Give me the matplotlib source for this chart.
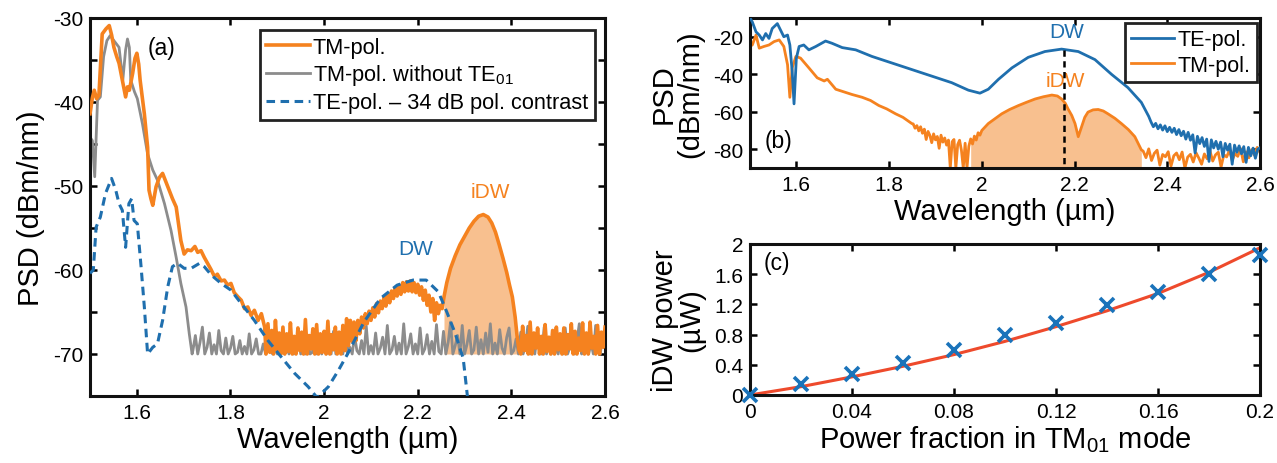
import numpy as np
import matplotlib.pyplot as plt

plt.rcParams['font.family'] = ['Liberation Sans', 'DejaVu Sans']
plt.rcParams['mathtext.default'] = 'regular'
plt.rcParams['axes.unicode_minus'] = False

# ---------------- panel (a) data ----------------
# TM-pol. (orange), smooth part
tm_a_wl = [1.500, 1.505, 1.509, 1.514, 1.519, 1.526, 1.534, 1.541, 1.546, 1.551, 1.557, 1.562,
           1.569, 1.576, 1.580, 1.584, 1.591, 1.596, 1.600, 1.604, 1.607, 1.616, 1.623, 1.626,
           1.630, 1.634, 1.641, 1.648, 1.655, 1.662, 1.669, 1.676, 1.684, 1.694, 1.701, 1.708,
           1.716, 1.724, 1.730, 1.737, 1.744, 1.751, 1.758, 1.766, 1.772, 1.780, 1.787, 1.794,
           1.801, 1.808, 1.816, 1.823, 1.830, 1.837, 1.844, 1.851, 1.859, 1.866, 1.873]
tm_a_psd = [-41.4, -39.5, -38.6, -39.6, -39.2, -31.9, -31.3, -30.9, -32.0, -33.5, -34.6, -35.4,
            -37.4, -39.4, -38.2, -38.6, -36.6, -34.8, -34.2, -35.5, -37.4, -41.4, -45.4, -50.5,
            -51.5, -52.3, -50.1, -49.0, -48.5, -49.5, -50.5, -51.5, -52.5, -56.5, -58.1, -57.6,
            -57.7, -57.2, -57.9, -57.7, -58.5, -59.2, -59.9, -60.8, -60.5, -61.3, -61.2, -61.8,
            -61.6, -62.7, -63.2, -63.6, -64.6, -64.4, -65.4, -64.8, -66.0, -65.2, -66.8]
# noisy floor 1.876 .. 2.060 (step 0.004)
tm_a_floor1 = [-70, -66.4, -69.8, -67.2, -70, -66.0, -69.5, -67.5, -70, -66.8, -70, -67.6,
               -69.7, -66.3, -70, -67.9, -70, -66.9, -69.6, -67.4, -70, -65.9, -70, -67.8,
               -69.4, -67.0, -70, -66.5, -70, -67.6, -69.8, -67.3, -70, -66.1, -70, -67.7,
               -69.5, -66.8, -70, -67.4, -70, -66.6, -69.6, -65.8, -69.0, -66.0, -68.5]
# DW hump 2.064 .. 2.252 (step 0.004)
tm_a_hump = [-66.2, -68.4, -66.0, -67.6, -65.6, -66.9, -65.2, -66.4, -64.9, -66.0, -64.5, -65.6,
             -64.0, -65.1, -63.7, -64.6, -63.2, -64.3, -62.8, -63.9, -62.5, -63.4, -62.1, -63.1,
             -61.8, -62.9, -61.5, -62.6, -61.4, -62.5, -61.3, -62.6, -61.5, -62.7, -61.7, -63.0,
             -62.0, -63.6, -62.4, -64.2, -63.0, -65.0, -63.4, -66.0, -63.9, -65.2, -64.2, -64.6]
# iDW peak
idw_a_wl = [2.256, 2.262, 2.270, 2.280, 2.290, 2.300, 2.310, 2.320, 2.330, 2.340, 2.350, 2.358,
            2.366, 2.374, 2.382, 2.390, 2.396, 2.402, 2.408, 2.412, 2.416]
idw_a_psd = [-63.2, -61.5, -59.8, -58.3, -57.0, -56.0, -55.0, -54.2, -53.6, -53.4, -53.7, -54.4,
             -55.5, -57.0, -58.6, -60.3, -61.8, -63.2, -65.6, -67.8, -69.5]
# noisy floor 2.420 .. 2.600 (step 0.004)
tm_a_floor2 = [-70, -66.7, -69.6, -67.8, -70, -66.2, -70, -67.5, -69.3, -66.9, -70, -67.9,
               -70, -66.5, -69.7, -68.0, -70, -67.2, -70, -66.8, -69.5, -67.6, -70, -66.9,
               -70, -67.7, -69.4, -66.4, -70, -67.3, -70, -68.1, -69.6, -66.3, -70, -67.5,
               -70, -66.2, -69.3, -67.9, -70, -66.6, -70, -67.4, -69.2, -66.8]

# TM-pol. without TE01 (gray)
gr_a_wl = [1.500, 1.505, 1.510, 1.516, 1.522, 1.529, 1.536, 1.543, 1.551, 1.562, 1.570, 1.576,
           1.580, 1.584, 1.587, 1.595, 1.601, 1.612, 1.623, 1.634, 1.644, 1.659, 1.673, 1.684,
           1.694, 1.705, 1.712, 1.718]
gr_a_psd = [-44.2, -44.6, -48.9, -39.8, -39.4, -34.6, -32.7, -32.1, -32.7, -33.5, -37.4, -33.8,
            -32.5, -33.5, -37.4, -38.8, -39.6, -42.6, -46.2, -48.1, -49.3, -52.1, -55.3, -58.5,
            -61.6, -64.4, -67.6, -70.0]
# noisy floor 1.720 .. 2.600 (step 0.005)
gr_a_floor = [-69.5, -67.8, -70, -68.6, -66.8, -70, -69.2, -67.5, -70, -68.9, -70, -67.2, -69.6, -70, -68.1, -70, -69.3, -67.9, -70, -69.8,
              -68.4, -70, -69.1, -70, -67.6, -70, -69.5, -68.2, -70, -70, -68.8, -70, -67.9, -69.4, -70, -68.5, -70, -69.7, -68.0, -70,
              -69.2, -70, -68.3, -70, -69.6, -67.7, -70, -69.0, -70, -68.6, -70, -69.8, -67.4, -70, -69.1, -70, -68.2, -70, -69.5, -70,
              -67.3, -70, -69.4, -68.1, -70, -66.9, -70, -69.2, -70, -67.8, -69.6, -70, -68.4, -70, -66.7, -70, -69.0, -70, -67.5, -70,
              -69.3, -68.0, -70, -66.6, -70, -69.5, -67.9, -70, -68.7, -70, -66.4, -70, -69.1, -67.6, -70, -68.8, -70, -66.9, -70, -69.4,
              -67.7, -70, -68.5, -70, -66.5, -69.7, -70, -67.3, -70, -68.6, -66.2, -70, -69.0, -67.8, -70, -66.6, -70, -68.9, -67.2, -70,
              -69.5, -66.8, -70, -68.3, -70, -67.5, -69.8, -66.4, -70, -68.7, -70, -67.1, -69.3, -70, -68.0, -66.9, -70, -69.6, -68.2, -70,
              -67.4, -70, -69.0, -66.7, -70, -68.5, -70, -67.9, -69.7, -70, -66.8, -70, -68.8, -70, -67.5, -69.4, -70, -68.1, -70, -66.9,
              -70, -69.2, -67.6, -70, -68.4, -66.4, -70, -69.5, -67.9, -70, -68.7, -70, -66.6, -69.8, -70, -67.4, -68.2]

# TE-pol. - 34 dB pol. contrast (blue dashed)
te_a_wl = [1.500, 1.507, 1.513, 1.522, 1.533, 1.546, 1.555, 1.562, 1.569, 1.576, 1.583, 1.589,
           1.594, 1.601, 1.609, 1.616, 1.623, 1.634, 1.644, 1.655, 1.666, 1.676, 1.687, 1.701,
           1.716, 1.734, 1.744, 1.759, 1.780, 1.801, 1.823, 1.851, 1.880, 1.909, 1.937, 1.966,
           1.985, 2.009, 2.030, 2.050, 2.085, 2.120, 2.156, 2.190, 2.218, 2.244, 2.262, 2.279,
           2.297, 2.306]
te_a_psd = [-60.4, -60.0, -54.9, -53.7, -50.9, -49.1, -50.5, -52.1, -52.9, -57.3, -52.1, -51.5,
            -54.1, -54.5, -59.6, -64.4, -70.0, -69.2, -68.8, -66.0, -62.0, -59.6, -59.2, -59.8,
            -59.8, -59.2, -59.6, -60.6, -61.6, -62.4, -64.0, -66.0, -68.4, -70.4, -72.3, -73.9,
            -75.2, -73.9, -72.0, -70.0, -66.2, -63.4, -61.8, -61.2, -61.2, -62.6, -65.0, -67.4,
            -70.5, -75.0]

# ---------------- panel (b) data ----------------
te_b_wl = [1.500, 1.505, 1.513, 1.520, 1.527, 1.534, 1.541, 1.548, 1.559, 1.566, 1.573, 1.581,
           1.586, 1.591, 1.595, 1.600, 1.606, 1.616, 1.627, 1.642, 1.663, 1.677, 1.699, 1.728,
           1.763, 1.806, 1.849, 1.892, 1.935, 1.971, 1.996, 2.014, 2.036, 2.065, 2.100, 2.136,
           2.172, 2.208, 2.244, 2.280, 2.315, 2.344, 2.360]
te_b_psd = [-10.0, -12.1, -17.4, -19.1, -21.7, -18.3, -20.9, -15.6, -13.0, -16.5, -20.0, -19.1,
            -24.4, -38.4, -55.8, -31.4, -25.2, -24.4, -27.0, -25.2, -22.3, -23.5, -25.8, -27.0,
            -30.5, -34.0, -37.5, -41.0, -44.5, -48.5, -50.1, -48.0, -42.7, -36.6, -31.0, -27.9,
            -26.6, -27.9, -32.2, -40.1, -47.1, -55.0, -62.5]
# noisy tail 2.365 .. 2.600 (step 0.005)
te_b_tail = [-65.5, -68.0, -66.2, -69.1, -67.0, -69.8, -67.5, -70.6, -68.3, -71.0, -68.8, -72.2,
             -69.5, -72.8, -70.4, -74.6, -71.0, -75.2, -72.3, -82.0, -73.1, -77.0, -73.8, -78.5,
             -74.6, -86.5, -75.0, -79.3, -75.8, -80.0, -76.2, -84.0, -76.9, -80.5, -77.3, -88.0,
             -77.8, -81.6, -78.2, -82.4, -78.6, -87.0, -79.0, -83.5, -79.4, -84.8, -80.0, -79.2]

tm_b_wl = [1.500, 1.505, 1.513, 1.520, 1.530, 1.541, 1.552, 1.563, 1.573, 1.581, 1.586, 1.591,
           1.599, 1.609, 1.627, 1.645, 1.660, 1.667, 1.685, 1.706, 1.720, 1.742, 1.760, 1.778,
           1.795, 1.814, 1.830, 1.849]
tm_b_psd = [-25.0, -24.4, -19.1, -26.1, -25.2, -24.4, -22.6, -21.7, -25.2, -34.9, -52.3, -36.6,
            -30.5, -31.4, -36.6, -41.9, -43.6, -42.7, -48.0, -49.7, -50.8, -52.3, -54.0, -56.7,
            -58.5, -61.1, -63.0, -66.3]
# noisy part 1.852 .. 1.996 (step 0.004)
tm_b_noise = [-66.5, -68.8, -67.4, -70.2, -68.0, -71.5, -69.3, -74.8, -70.5, -72.6, -76.5, -71.8,
              -75.0, -73.2, -79.5, -72.5, -76.2, -74.0, -77.8, -75.1, -90, -76.0, -74.8, -90,
              -77.5, -75.2, -80.5, -90, -76.8, -90, -78.4, -74.5, -77.2, -73.0, -75.1, -71.2, -72.5]
idw_b_wl = [2.000, 2.014, 2.028, 2.043, 2.060, 2.079, 2.097, 2.115, 2.133, 2.151, 2.163, 2.172,
            2.180, 2.186, 2.194, 2.201, 2.208, 2.215, 2.222, 2.229, 2.240, 2.251, 2.262, 2.272,
            2.287, 2.301, 2.316, 2.330, 2.344]
idw_b_psd = [-70.0, -66.3, -63.8, -61.1, -58.8, -56.7, -54.9, -53.2, -52.0, -51.1, -51.6, -53.2,
             -55.5, -58.5, -62.0, -66.3, -73.3, -68.1, -63.0, -60.2, -59.0, -58.8, -59.6, -61.1,
             -63.5, -66.3, -69.5, -73.3, -80.3]
# noisy floor 2.348 .. 2.600 (step 0.006)
tm_b_floor = [-81.0, -84.5, -79.8, -86.0, -82.2, -80.5, -88.5, -82.8, -84.0, -81.3, -89.0, -83.5,
              -82.0, -85.6, -81.5, -90, -84.2, -82.7, -86.8, -81.9, -84.7, -88.0, -82.5, -85.1,
              -80.8, -86.3, -83.0, -81.6, -89.5, -82.9, -84.1, -80.7, -85.9, -82.3, -83.8, -79.6,
              -86.7, -81.4, -84.6, -80.2, -83.2, -79.0, -81.8]
dw_peak_wl = 2.178
dw_peak_psd = -27.0

# ---------------- panel (c) data ----------------
frac = [0, 0.02, 0.04, 0.06, 0.08, 0.10, 0.12, 0.14, 0.16, 0.18, 0.20]
idw_power = [0, 0.14, 0.28, 0.43, 0.60, 0.80, 0.96, 1.19, 1.36, 1.60, 1.86]
fit_power = [0, 0.11, 0.24, 0.38, 0.535, 0.71, 0.905, 1.115, 1.345, 1.625, 1.95]

# ---------------- assemble series ----------------
def steps(start, step, vals):
    return list(start + step * np.arange(len(vals)))

tm_a_x = np.array(tm_a_wl + steps(1.876, 0.004, tm_a_floor1) + steps(2.064, 0.004, tm_a_hump)
                  + idw_a_wl + steps(2.420, 0.004, tm_a_floor2))
tm_a_y = np.array(tm_a_psd + tm_a_floor1 + tm_a_hump + idw_a_psd + tm_a_floor2)
gr_a_x = np.array(gr_a_wl + steps(1.720, 0.005, gr_a_floor))
gr_a_y = np.array(gr_a_psd + gr_a_floor)
te_b_x = np.array(te_b_wl + steps(2.365, 0.005, te_b_tail))
te_b_y = np.array(te_b_psd + te_b_tail)
tm_b_x = np.array(tm_b_wl + steps(1.852, 0.004, tm_b_noise) + idw_b_wl + steps(2.348, 0.006, tm_b_floor))
tm_b_y = np.array(tm_b_psd + tm_b_noise + idw_b_psd + tm_b_floor)

orange = '#F5821F'
gray = '#8C8C8C'
blue = '#1F6FAE'
fill_c = '#F8C08F'
red = '#EE4A2C'

fig = plt.figure(figsize=(12.77, 4.64), dpi=100)
ax_a = fig.add_axes([0.0705, 0.1444, 0.4033, 0.8147])
ax_b = fig.add_axes([0.5873, 0.6358, 0.3994, 0.3233])
ax_c = fig.add_axes([0.5873, 0.1466, 0.3994, 0.3254])

tick_fs = 15
label_fs = 21
note_fs = 15
for ax in (ax_a, ax_b, ax_c):
    ax.tick_params(direction='in', length=5, width=1.8, top=True, right=True,
                   labelsize=tick_fs, pad=5)
    for sp in ax.spines.values():
        sp.set_linewidth(2.2)
        sp.set_color('#111111')

# ---- (a)
sel = (tm_a_x >= 2.255) & (tm_a_x <= 2.412)
ax_a.fill_between(tm_a_x[sel], tm_a_y[sel], -70, color=fill_c, lw=0, zorder=1)
ax_a.plot(gr_a_x, gr_a_y, color=gray, lw=2.0, zorder=2, label='TM-pol. without TE$_{01}$')
ax_a.plot(tm_a_x, tm_a_y, color=orange, lw=2.6, zorder=3, label='TM-pol.')
ax_a.plot(te_a_wl, te_a_psd, color=blue, lw=2.2, ls=(0, (2.8, 1.8)), zorder=4,
          label='TE-pol. \u2013 34 dB pol. contrast')
ax_a.set_xlim(1.5, 2.6)
ax_a.set_ylim(-75, -30)
ax_a.set_xticks([1.6, 1.8, 2.0, 2.2, 2.4, 2.6])
ax_a.set_xticklabels(['1.6', '1.8', '2', '2.2', '2.4', '2.6'])
ax_a.set_yticks([-70, -65, -60, -55, -50, -45, -40, -35, -30])
ax_a.set_yticklabels(['-70', '', '-60', '', '-50', '', '-40', '', '-30'])
ax_a.set_xlabel('Wavelength (\u00b5m)', fontsize=label_fs, labelpad=2)
ax_a.set_ylabel('PSD (dBm/nm)', fontsize=label_fs, labelpad=6)
ax_a.text(1.623, -33.5, '(a)', fontsize=16.5, va='center', ha='left')
ax_a.text(2.355, -50.6, 'iDW', fontsize=note_fs, color=orange, ha='center', va='center')
ax_a.text(2.195, -57.5, 'DW', fontsize=note_fs, color=blue, ha='center', va='center')
h, l = ax_a.get_legend_handles_labels()
order = [1, 0, 2]
leg = ax_a.legend([h[i] for i in order], [l[i] for i in order], loc='upper right',
                  bbox_to_anchor=(0.98, 0.968), borderaxespad=0, fontsize=15.7,
                  fancybox=False, edgecolor='#222222', framealpha=1,
                  handlelength=2.0, handletextpad=0.15, labelspacing=0.22, borderpad=0.3)
leg.get_frame().set_linewidth(2.0)

# ---- (b)
sel = (tm_b_x >= 1.975) & (tm_b_x <= 2.345)
ax_b.fill_between(tm_b_x[sel], tm_b_y[sel], -90, color=fill_c, lw=0, zorder=1)
ax_b.plot(te_b_x, te_b_y, color=blue, lw=2.0, zorder=3, label='TE-pol.')
ax_b.plot(tm_b_x, tm_b_y, color=orange, lw=2.0, zorder=2, label='TM-pol.')
ax_b.plot([dw_peak_wl, dw_peak_wl], [dw_peak_psd, -90], color='k', lw=1.8,
          ls=(0, (2.5, 1.8)), zorder=4)
ax_b.set_xlim(1.5, 2.6)
ax_b.set_ylim(-90, -10)
ax_b.set_xticks([1.6, 1.8, 2.0, 2.2, 2.4, 2.6])
ax_b.set_xticklabels(['1.6', '1.8', '2', '2.2', '2.4', '2.6'])
ax_b.set_yticks([-80, -60, -40, -20])
ax_b.set_xlabel('Wavelength (\u00b5m)', fontsize=label_fs, labelpad=2)
ax_b.set_ylabel('PSD\n(dBm/nm)', fontsize=label_fs, labelpad=6, linespacing=0.95)
ax_b.text(2.184, -17, 'DW', fontsize=note_fs, color=blue, ha='center', va='center')
ax_b.text(2.18, -43.6, 'iDW', fontsize=note_fs, color=orange, ha='center', va='center')
ax_b.text(1.532, -75.5, '(b)', fontsize=16.5, ha='left', va='center')
leg = ax_b.legend(loc='upper right', bbox_to_anchor=(0.994, 0.967), borderaxespad=0,
                  fontsize=15.5, fancybox=False, edgecolor='#222222', framealpha=1,
                  handlelength=2.0, handletextpad=0.15, labelspacing=0.2, borderpad=0.3)
leg.get_frame().set_linewidth(2.0)

# ---- (c)
ax_c.plot(frac, fit_power, color=red, lw=2.2, zorder=2)
ax_c.plot(frac, idw_power, ls='none', marker='x', ms=10, mew=2.6, color='#1A73BA',
          zorder=3, clip_on=False)
ax_c.set_xlim(0, 0.2)
ax_c.set_ylim(0, 2)
ax_c.set_xticks([0, 0.04, 0.08, 0.12, 0.16, 0.2])
ax_c.set_xticklabels(['0', '0.04', '0.08', '0.12', '0.16', '0.2'])
ax_c.set_yticks([0, 0.4, 0.8, 1.2, 1.6, 2])
ax_c.set_yticklabels(['0', '0.4', '0.8', '1.2', '1.6', '2'])
ax_c.set_xlabel('Power fraction in TM$_{01}$ mode', fontsize=label_fs, labelpad=2)
ax_c.set_ylabel('iDW power\n(\u00b5W)', fontsize=label_fs, labelpad=6, linespacing=0.95)
ax_c.text(0.0055, 1.76, '(c)', fontsize=16.5, ha='left', va='center')

fig.savefig('out.png', dpi=100)
